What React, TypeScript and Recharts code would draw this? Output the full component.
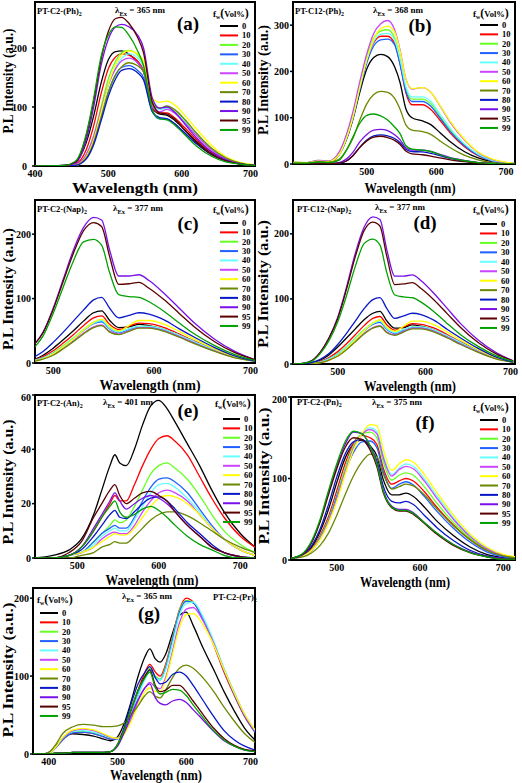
import React from "react";
import { LineChart, Line, XAxis, YAxis, ReferenceArea } from "recharts";

const SERIF = "'Liberation Serif', 'Times New Roman', serif";

// water fractions (legend) and their colours
const fractions = ["0", "10", "20", "30", "40", "50", "60", "70", "80", "90", "95", "99"];
const lineColors = [
  "#000000", "#ff0000", "#66ff22", "#2060ff", "#66ffff", "#cc44ff",
  "#ffff00", "#6a8800", "#0818c8", "#7a10e8", "#5a0000", "#00a000",
];

// (a) PT-C2-(Ph)2
const aWl = [400, 440, 455, 470, 480, 490, 500, 510, 518, 528, 540, 548, 560, 570, 580, 590, 605, 620, 640, 660, 680, 700];
const aPL = [
  [0, 1, 6, 40, 85, 140, 180, 194, 195, 190, 175, 160, 98, 88, 86, 78, 60, 42, 22, 10, 4, 1],
  [0, 0, 3, 28, 68, 122, 165, 185, 190, 188, 178, 162, 100, 90, 90, 82, 64, 45, 24, 11, 4, 1],
  [0, 0, 2, 20, 52, 100, 148, 178, 192, 196, 188, 172, 108, 98, 100, 95, 76, 55, 30, 13, 5, 1],
  [0, 0, 1, 15, 40, 82, 125, 155, 167, 170, 162, 150, 92, 80, 80, 72, 55, 38, 20, 9, 3, 1],
  [0, 0, 1, 17, 45, 90, 135, 168, 182, 190, 183, 168, 105, 96, 98, 92, 74, 54, 30, 13, 5, 1],
  [0, 0, 2, 20, 50, 95, 138, 165, 178, 183, 175, 160, 100, 92, 96, 90, 72, 52, 28, 12, 5, 1],
  [0, 0, 1, 16, 44, 90, 138, 172, 188, 195, 190, 178, 115, 108, 110, 104, 85, 63, 36, 16, 6, 2],
  [0, 0, 1, 14, 40, 82, 125, 155, 168, 175, 170, 160, 105, 98, 102, 96, 78, 56, 31, 14, 5, 1],
  [0, 0, 1, 12, 36, 76, 118, 148, 162, 165, 158, 146, 92, 82, 80, 72, 55, 38, 20, 9, 3, 1],
  [0, 1, 5, 45, 100, 170, 215, 236, 240, 236, 222, 200, 115, 98, 100, 92, 70, 48, 25, 11, 4, 1],
  [0, 1, 7, 52, 110, 180, 228, 250, 252, 242, 218, 192, 108, 90, 88, 80, 60, 40, 20, 9, 3, 1],
  [0, 1, 8, 55, 115, 185, 222, 236, 235, 222, 195, 170, 95, 80, 78, 70, 52, 34, 17, 7, 3, 1],
];

// (b) PT-C12-(Ph)2
const bWl = [395, 415, 430, 445, 460, 470, 480, 490, 500, 510, 520, 530, 540, 548, 556, 565, 580, 592, 605, 620, 640, 660, 680, 700, 713];
const bPL = [
  [3, 3, 6, 5, 20, 50, 96, 155, 205, 230, 237, 232, 210, 175, 120, 100, 93, 85, 68, 48, 27, 13, 5, 2, 1],
  [3, 3, 6, 5, 22, 55, 104, 168, 225, 262, 276, 276, 260, 215, 155, 128, 128, 118, 95, 67, 38, 18, 7, 2, 1],
  [4, 3, 8, 6, 24, 58, 108, 172, 232, 272, 287, 290, 272, 225, 165, 140, 140, 130, 104, 74, 42, 20, 8, 3, 1],
  [3, 3, 6, 5, 20, 50, 98, 160, 218, 255, 268, 270, 258, 215, 158, 135, 135, 125, 100, 70, 40, 19, 7, 2, 1],
  [3, 3, 6, 5, 22, 55, 104, 168, 226, 265, 280, 282, 268, 225, 168, 145, 145, 135, 108, 77, 44, 21, 8, 3, 1],
  [4, 3, 8, 6, 25, 60, 112, 178, 238, 282, 303, 310, 290, 245, 185, 162, 165, 155, 126, 90, 52, 25, 10, 3, 1],
  [4, 3, 6, 5, 20, 52, 100, 165, 225, 270, 292, 298, 285, 242, 185, 163, 165, 155, 127, 92, 54, 26, 11, 4, 1],
  [2, 2, 5, 4, 10, 28, 55, 95, 130, 150, 157, 155, 142, 118, 85, 73, 70, 64, 50, 35, 19, 9, 3, 1, 0],
  [1, 1, 2, 1, 2, 6, 18, 36, 52, 61, 63, 61, 55, 46, 32, 27, 26, 23, 18, 12, 6, 3, 1, 0, 0],
  [1, 1, 2, 1, 3, 10, 25, 48, 64, 73, 75, 72, 63, 52, 35, 30, 30, 27, 21, 14, 8, 3, 1, 0, 0],
  [1, 1, 2, 1, 2, 6, 18, 36, 50, 58, 60, 57, 51, 42, 28, 22, 20, 17, 13, 9, 5, 2, 1, 0, 0],
  [2, 2, 4, 3, 8, 28, 58, 88, 105, 108, 104, 95, 80, 65, 40, 32, 30, 27, 20, 13, 7, 3, 1, 0, 0],
];

// (c) PT-C2-(Nap)2
const cWl = [482, 490, 500, 510, 520, 530, 540, 548, 556, 565, 575, 585, 595, 610, 625, 640, 660, 680, 700];
const cPL = [
  [6, 12, 23, 36, 50, 65, 78, 81, 66, 55, 56, 60, 58, 52, 42, 32, 19, 9, 3],
  [5, 10, 19, 31, 44, 58, 70, 73, 60, 52, 57, 62, 61, 55, 45, 34, 21, 10, 3],
  [4, 8, 16, 27, 39, 52, 63, 66, 55, 48, 53, 57, 57, 52, 43, 33, 20, 10, 3],
  [4, 8, 15, 25, 37, 50, 61, 64, 53, 47, 52, 56, 56, 51, 42, 32, 19, 9, 3],
  [4, 8, 15, 26, 38, 51, 62, 66, 54, 48, 53, 57, 57, 52, 43, 33, 20, 9, 3],
  [3, 7, 13, 23, 34, 46, 56, 59, 49, 45, 50, 55, 55, 50, 41, 31, 19, 9, 3],
  [3, 7, 14, 25, 37, 51, 63, 68, 57, 50, 58, 66, 66, 60, 49, 37, 22, 10, 3],
  [3, 6, 12, 22, 33, 45, 55, 58, 48, 44, 49, 54, 54, 49, 40, 30, 18, 8, 3],
  [10, 18, 32, 48, 65, 82, 98, 102, 85, 70, 74, 78, 76, 67, 53, 40, 24, 11, 3],
  [30, 48, 85, 130, 175, 210, 226, 222, 175, 135, 135, 137, 128, 108, 85, 62, 37, 18, 5],
  [30, 47, 83, 127, 170, 205, 218, 212, 165, 122, 123, 125, 116, 98, 77, 56, 33, 16, 5],
  [25, 42, 77, 118, 158, 188, 192, 183, 140, 106, 103, 102, 95, 80, 62, 45, 27, 13, 4],
];

// (d) PT-C12-(Nap)2
const dWl = [449, 460, 470, 480, 490, 500, 510, 520, 530, 540, 548, 556, 565, 575, 585, 595, 610, 625, 640, 660, 680, 700];
const dPL = [
  [0, 0, 2, 6, 14, 26, 40, 54, 68, 78, 81, 66, 55, 56, 60, 58, 52, 42, 32, 19, 9, 3],
  [0, 0, 1, 4, 10, 19, 31, 45, 59, 70, 73, 60, 52, 57, 62, 61, 55, 45, 34, 21, 10, 3],
  [0, 0, 1, 3, 8, 16, 27, 40, 53, 63, 66, 55, 48, 53, 57, 57, 52, 43, 33, 20, 10, 3],
  [0, 0, 1, 3, 8, 15, 25, 38, 51, 61, 64, 53, 47, 52, 56, 56, 51, 42, 32, 19, 9, 3],
  [0, 0, 1, 3, 8, 15, 26, 39, 52, 62, 66, 54, 48, 53, 57, 57, 52, 43, 33, 20, 9, 3],
  [0, 0, 1, 2, 6, 13, 23, 35, 47, 56, 59, 49, 45, 50, 55, 55, 50, 41, 31, 19, 9, 3],
  [0, 0, 1, 2, 6, 13, 24, 37, 51, 63, 68, 57, 50, 58, 66, 66, 60, 49, 37, 22, 10, 3],
  [0, 0, 1, 2, 6, 12, 22, 34, 46, 55, 58, 48, 44, 49, 54, 54, 49, 40, 30, 18, 8, 3],
  [0, 0, 2, 7, 16, 30, 47, 66, 85, 99, 102, 85, 70, 74, 78, 76, 67, 53, 40, 24, 11, 3],
  [0, 1, 5, 18, 40, 72, 118, 170, 210, 226, 222, 175, 135, 135, 137, 128, 108, 85, 62, 37, 18, 5],
  [0, 1, 5, 18, 40, 70, 115, 165, 205, 218, 212, 165, 122, 123, 125, 116, 98, 77, 56, 33, 16, 5],
  [0, 1, 4, 16, 36, 65, 105, 150, 185, 192, 183, 140, 106, 103, 102, 95, 80, 62, 45, 27, 13, 4],
];

// (e) PT-C2-(An)2
const eWl = [448, 470, 490, 505, 520, 530, 540, 546, 552, 560, 570, 580, 590, 600, 610, 620, 635, 650, 665, 680, 700, 718];
const ePL = [
  [0, 1, 3, 7, 16, 25, 34, 38, 35, 34, 40, 49, 56, 58, 55, 50, 42, 34, 25, 17, 9, 4],
  [0, 0, 1, 4, 10, 15, 20, 23, 21, 21, 27, 34, 40, 44, 45, 43, 38, 30, 22, 15, 8, 4],
  [0, 0, 1, 2, 6, 9, 12, 14, 13, 14, 19, 25, 31, 34, 35, 33, 29, 23, 16, 10, 5, 2],
  [0, 0, 1, 2, 6, 9, 11, 12, 11, 11, 15, 21, 26, 29, 29.5, 28, 24, 18, 12, 7, 3, 1],
  [0, 0, 1, 2, 5, 8, 10, 11, 10, 10, 14, 19, 24, 27, 27.5, 26, 22, 17, 11, 7, 3, 1],
  [0, 0, 1, 2, 4, 7, 9, 9.5, 9, 9, 12, 17, 21, 24, 25, 24, 21, 16, 11, 7, 3, 1],
  [0, 0, 1, 2, 4, 6, 8, 9, 8.5, 8.5, 11, 15, 19, 22, 23, 22.5, 20, 16, 11, 7, 3, 1],
  [0, 0, 0, 1, 2, 4, 5, 6, 5.5, 5.5, 8, 11, 14, 16, 17, 17, 15.5, 13, 10, 7, 4, 2],
  [0, 0, 1, 3, 8, 12, 16, 17.5, 15, 14.5, 17, 20, 22, 22.5, 21, 18, 13, 9, 5, 2, 0.5, 0],
  [0, 0, 1, 4, 11, 16, 21, 24, 21, 18, 20, 22, 23, 22, 20, 17, 12, 8, 4, 2, 0.5, 0],
  [0, 0, 2, 6, 15, 20, 25, 27, 23, 20, 22, 24, 24.5, 23, 21, 17, 12, 8, 4, 2, 0.5, 0],
  [0, 0, 1, 4, 10, 15, 19, 21, 17, 15, 16, 18, 19, 17.5, 15, 12, 8, 5, 3, 1, 0, 0],
];

// (f) PT-C2-(Pn)2
const fWl = [445, 460, 470, 480, 490, 500, 510, 520, 530, 540, 548, 556, 566, 575, 583, 592, 605, 620, 640, 660, 680, 700, 714];
const fPL = [
  [2, 6, 16, 35, 62, 95, 125, 142, 147, 140, 128, 98, 80, 80, 82, 78, 65, 48, 30, 16, 7, 3, 2],
  [2, 6, 14, 30, 53, 85, 118, 143, 153, 150, 142, 112, 93, 97, 100, 97, 84, 65, 43, 25, 12, 5, 3],
  [2, 5, 13, 28, 50, 80, 113, 140, 155, 157, 150, 120, 98, 104, 107, 104, 90, 70, 46, 27, 13, 5, 3],
  [2, 5, 12, 27, 48, 78, 108, 132, 145, 146, 138, 108, 88, 93, 96, 92, 78, 60, 39, 22, 10, 4, 2],
  [2, 5, 12, 26, 47, 75, 108, 137, 155, 162, 158, 128, 105, 113, 118, 115, 100, 79, 52, 30, 15, 6, 3],
  [2, 5, 12, 26, 47, 75, 108, 137, 154, 160, 155, 125, 103, 111, 115, 112, 97, 76, 50, 29, 14, 6, 3],
  [2, 5, 12, 25, 45, 72, 105, 135, 155, 166, 165, 135, 110, 118, 123, 120, 105, 83, 55, 32, 16, 7, 4],
  [2, 4, 9, 18, 33, 55, 80, 103, 120, 130, 127, 105, 87, 90, 93, 91, 80, 63, 42, 25, 12, 5, 3],
  [2, 7, 18, 38, 68, 102, 130, 145, 148, 138, 122, 90, 72, 70, 72, 68, 55, 40, 24, 12, 5, 2, 1],
  [2, 8, 22, 48, 82, 115, 142, 157, 155, 140, 120, 85, 66, 62, 62, 58, 46, 33, 19, 10, 4, 2, 1],
  [2, 8, 22, 47, 80, 112, 138, 150, 148, 135, 115, 82, 64, 60, 60, 56, 45, 32, 18, 9, 4, 1, 1],
  [2, 9, 24, 50, 85, 118, 145, 158, 155, 140, 118, 84, 65, 61, 61, 57, 46, 33, 19, 9, 4, 1, 1],
];

// (g) PT-C2-(Pr)2
const gWl = [377, 390, 400, 410, 420, 435, 450, 465, 480, 490, 500, 510, 520, 530, 540, 547, 555, 562, 570, 580, 590, 600, 610, 625, 640, 655, 670, 685, 700];
const gPL = [
  [0, 0, 2, 10, 20, 26, 25, 23, 19, 17, 22, 40, 68, 100, 125, 135, 122, 118, 128, 155, 178, 182, 165, 135, 108, 80, 55, 33, 18],
  [0, 0, 1, 8, 18, 27, 28, 26, 22, 19, 20, 32, 55, 82, 105, 115, 105, 100, 115, 150, 185, 200, 195, 172, 140, 105, 75, 48, 28],
  [0, 0, 1, 8, 18, 28, 29, 27, 23, 20, 20, 30, 52, 78, 100, 110, 100, 96, 112, 148, 184, 197, 195, 173, 142, 108, 77, 50, 29],
  [0, 0, 1, 8, 18, 27, 28, 26, 22, 19, 19, 29, 50, 76, 98, 108, 98, 95, 110, 146, 182, 196, 194, 172, 141, 107, 76, 49, 28],
  [0, 0, 1, 9, 20, 29, 30, 28, 24, 21, 20, 29, 50, 75, 96, 106, 98, 95, 108, 142, 178, 193, 195, 175, 145, 110, 79, 51, 30],
  [0, 0, 1, 9, 20, 30, 32, 30, 25, 21, 20, 27, 45, 68, 85, 92, 86, 84, 98, 132, 168, 186, 188, 170, 142, 108, 78, 50, 30],
  [0, 0, 1, 9, 21, 31, 33, 31, 26, 22, 20, 26, 42, 63, 80, 85, 80, 80, 95, 128, 162, 179, 180, 165, 140, 108, 78, 51, 31],
  [0, 0, 2, 12, 26, 35, 38, 37, 35, 35, 36, 40, 50, 62, 75, 80, 74, 72, 82, 98, 110, 114, 110, 97, 80, 60, 42, 26, 15],
  [0, 0, 0, 1, 1, 2, 2, 2, 2, 3, 12, 35, 65, 90, 105, 112, 98, 90, 92, 102, 105, 100, 88, 68, 48, 30, 18, 10, 5],
  [0, 0, 0, 1, 1, 2, 2, 2, 2, 3, 10, 28, 50, 70, 85, 90, 72, 65, 63, 68, 70, 66, 57, 43, 29, 17, 10, 5, 3],
  [0, 0, 0, 1, 1, 2, 2, 2, 2, 3, 12, 32, 58, 82, 100, 108, 88, 80, 82, 88, 88, 80, 68, 50, 33, 20, 11, 6, 4],
  [0, 0, 0, 1, 1, 2, 2, 2, 2, 3, 12, 32, 58, 82, 98, 105, 85, 77, 79, 83, 82, 75, 63, 46, 30, 18, 10, 5, 3],
];

// layout of each panel (page px): plot box [left, top, right, bottom]
const panels = [
  {
    tag: "(a)", name: "PT-C2-(Ph)", ex: "365", wl: aWl, pl: aPL, yGap: 5,
    box: [35, 2, 255, 166], chartLeft: 0, xDom: [400, 700], xTicks: [400, 500, 600, 700], yDom: [0, 278], yTicks: [0, 100, 200],
    titleAt: [37, 14], exAt: [115, 13], tagAt: [188, 30],
    leg: { hx: 213, hy: 17, x1: 220, x2: 238, y0: 26, step: 9.45 },
    xT: [135, 193, 126, 15], yT: [13, 81, 105, 14],
  },
  {
    tag: "(b)", name: "PT-C12-(Ph)", ex: "368", wl: bWl, pl: bPL, yGap: 1,
    box: [293, 2, 515, 164], chartLeft: 258, xDom: [394, 713], xTicks: [500, 600, 700], yDom: [0, 350], yTicks: [0, 100, 200, 300],
    titleAt: [295, 14], exAt: [373, 13], tagAt: [420, 32],
    leg: { hx: 473, hy: 17, x1: 480, x2: 498, y0: 25, step: 9.36 },
    xT: [410, 193, 91, 15], yT: [268, 80, 110, 14],
  },
  {
    tag: "(c)", name: "PT-C2-(Nap)", ex: "377", wl: cWl, pl: cPL, yGap: 1,
    box: [35, 200, 255, 363], chartLeft: 0, xDom: [482, 700], xTicks: [500, 600, 700], yDom: [0, 253], yTicks: [0, 100, 200],
    titleAt: [37, 212], exAt: [113, 211], tagAt: [188, 230],
    leg: { hx: 213, hy: 213, x1: 220, x2: 238, y0: 223, step: 9.36 },
    xT: [150, 390, 101, 15], yT: [13, 289, 122, 14],
  },
  {
    tag: "(d)", name: "PT-C12-(Nap)", ex: "377", wl: dWl, pl: dPL, yGap: 1,
    box: [293, 200, 515, 364], chartLeft: 258, xDom: [449, 702], xTicks: [500, 600, 700], yDom: [0, 252], yTicks: [0, 100, 200],
    titleAt: [297, 212], exAt: [375, 210], tagAt: [425, 229],
    leg: { hx: 473, hy: 213, x1: 480, x2: 497, y0: 224, step: 9.45 },
    xT: [410, 391, 92, 15], yT: [268, 284, 128, 14],
  },
  {
    tag: "(e)", name: "PT-C2-(An)", ex: "401", wl: eWl, pl: ePL, yGap: 1,
    box: [35, 395, 255, 558], chartLeft: 0, xDom: [448, 718], xTicks: [500, 600, 700], yDom: [0, 60], yTicks: [0, 20, 40, 60],
    titleAt: [37, 406], exAt: [103, 405], tagAt: [188, 417],
    leg: { hx: 215, hy: 407, x1: 223, x2: 240, y0: 419, step: 9.36 },
    xT: [152, 585, 93, 15], yT: [13, 482, 125, 14],
  },
  {
    tag: "(f)", name: "PT-C2-(Pn)", ex: "375", wl: fWl, pl: fPL, yGap: 1,
    box: [291, 397, 515, 560], chartLeft: 258, xDom: [445, 714], xTicks: [500, 600, 700], yDom: [0, 200], yTicks: [0, 100, 200],
    titleAt: [297, 405], exAt: [372, 405], tagAt: [425, 429],
    leg: { hx: 473, hy: 411, x1: 480, x2: 498, y0: 420, step: 9.36 },
    xT: [405, 587, 90, 15], yT: [269, 476, 137, 14],
  },
  {
    tag: "(g)", name: "PT-C2-(Pr)", ex: "365", wl: gWl, pl: gPL, yGap: 1,
    box: [33, 588, 255, 754], chartLeft: 0, xDom: [377, 700], xTicks: [400, 500, 600, 700], yDom: [0, 213], yTicks: [0, 100, 200],
    titleAt: [213, 600], exAt: [122, 599], tagAt: [149, 620],
    leg: { hx: 37, hy: 603, x1: 40, x2: 58, y0: 613, step: 9.36 },
    xT: [156, 780, 92, 15], yT: [13, 670, 135, 14],
  },
];

const tickStyle = { fill: "#000", fontSize: 10, fontWeight: 700, fontFamily: SERIF };

const Panel = ({ p }) => {
  const [l, t, r, b] = p.box;
  const rows = p.wl.map((w, i) => {
    const row = { wl: w };
    p.pl.forEach((s, k) => (row["f" + fractions[k]] = s[i]));
    return row;
  });
  return (
    <div style={{ position: "absolute", left: p.chartLeft, top: t - 3 }}>
      <LineChart
        width={r + 3 - p.chartLeft}
        height={b - t + 3 + 24}
        data={rows}
        margin={{ top: 3, right: 3, left: 0, bottom: 0 }}
      >
        <XAxis
          dataKey="wl" type="number" domain={p.xDom} ticks={p.xTicks} allowDataOverflow
          height={24} tickSize={3} tickMargin={1} tick={tickStyle} axisLine={false} tickLine={false}
        />
        <YAxis
          type="number" domain={p.yDom} ticks={p.yTicks} allowDataOverflow
          width={l - p.chartLeft} tickSize={3} tickMargin={p.yGap} tick={tickStyle} axisLine={false}
          tickLine={{ stroke: "#000", strokeWidth: 1.5 }}
        />
        {fractions.map((f, k) => (
          <Line
            key={f} dataKey={"f" + f} type="monotone" stroke={lineColors[k]}
            strokeWidth={1.3} dot={false} isAnimationActive={false}
          />
        ))}
        <ReferenceArea
          x1={p.xDom[0]} x2={p.xDom[1]} y1={p.yDom[0]} y2={p.yDom[1]}
          fill="none" fillOpacity={0} stroke="#000" strokeWidth={2} ifOverflow="visible"
        />
      </LineChart>
    </div>
  );
};

const Notes = ({ p }) => {
  const { leg } = p;
  return (
    <g fontFamily={SERIF} fontWeight={700} fill="#000">
      {/* sample name */}
      <text x={p.titleAt[0]} y={p.titleAt[1]} fontSize={8.5}>
        {p.name}
        <tspan fontSize={6} dy={2}>2</tspan>
      </text>
      {/* excitation */}
      <text x={p.exAt[0]} y={p.exAt[1]} fontSize={9}>
        λ<tspan fontSize={6.5} dy={3}>Ex</tspan>
        <tspan dy={-3}>{" = " + p.ex + " nm"}</tspan>
      </text>
      {/* panel tag */}
      <text x={p.tagAt[0]} y={p.tagAt[1]} fontSize={19} textAnchor="middle">{p.tag}</text>
      {/* legend */}
      <text x={leg.hx} y={leg.hy} fontSize={9}>
        f<tspan fontSize={6} dy={2}>w</tspan>
        <tspan fontSize={12} dy={-2}>(</tspan>
        <tspan fontSize={8.5}>Vol%</tspan>
        <tspan fontSize={12}>)</tspan>
      </text>
      {fractions.map((f, k) => (
        <g key={f}>
          <line
            x1={leg.x1} x2={leg.x2} y1={leg.y0 + k * leg.step} y2={leg.y0 + k * leg.step}
            stroke={lineColors[k]} strokeWidth={2}
          />
          <text x={leg.x2 + 4} y={leg.y0 + k * leg.step + 3} fontSize={8.5}>{f}</text>
        </g>
      ))}
      {/* axis titles */}
      <text
        x={p.xT[0]} y={p.xT[1]} fontSize={p.xT[3]} textAnchor="middle"
        textLength={p.xT[2]} lengthAdjust="spacingAndGlyphs"
      >
        Wavelength (nm)
      </text>
      <text
        transform={`translate(${p.yT[0]},${p.yT[1]}) rotate(-90)`} fontSize={p.yT[3]} textAnchor="middle"
        textLength={p.yT[2]} lengthAdjust="spacingAndGlyphs"
      >
        P.L Intensity (a.u.)
      </text>
    </g>
  );
};

export default function App() {
  return (
    <div style={{ position: "absolute", left: 0, top: 0, width: 522, height: 783, background: "#fff", overflow: "hidden" }}>
      {panels.map((p) => (
        <Panel key={p.tag} p={p} />
      ))}
      <svg width={522} height={783} style={{ position: "absolute", left: 0, top: 0, pointerEvents: "none" }}>
        {panels.map((p) => (
          <Notes key={p.tag} p={p} />
        ))}
      </svg>
    </div>
  );
}
